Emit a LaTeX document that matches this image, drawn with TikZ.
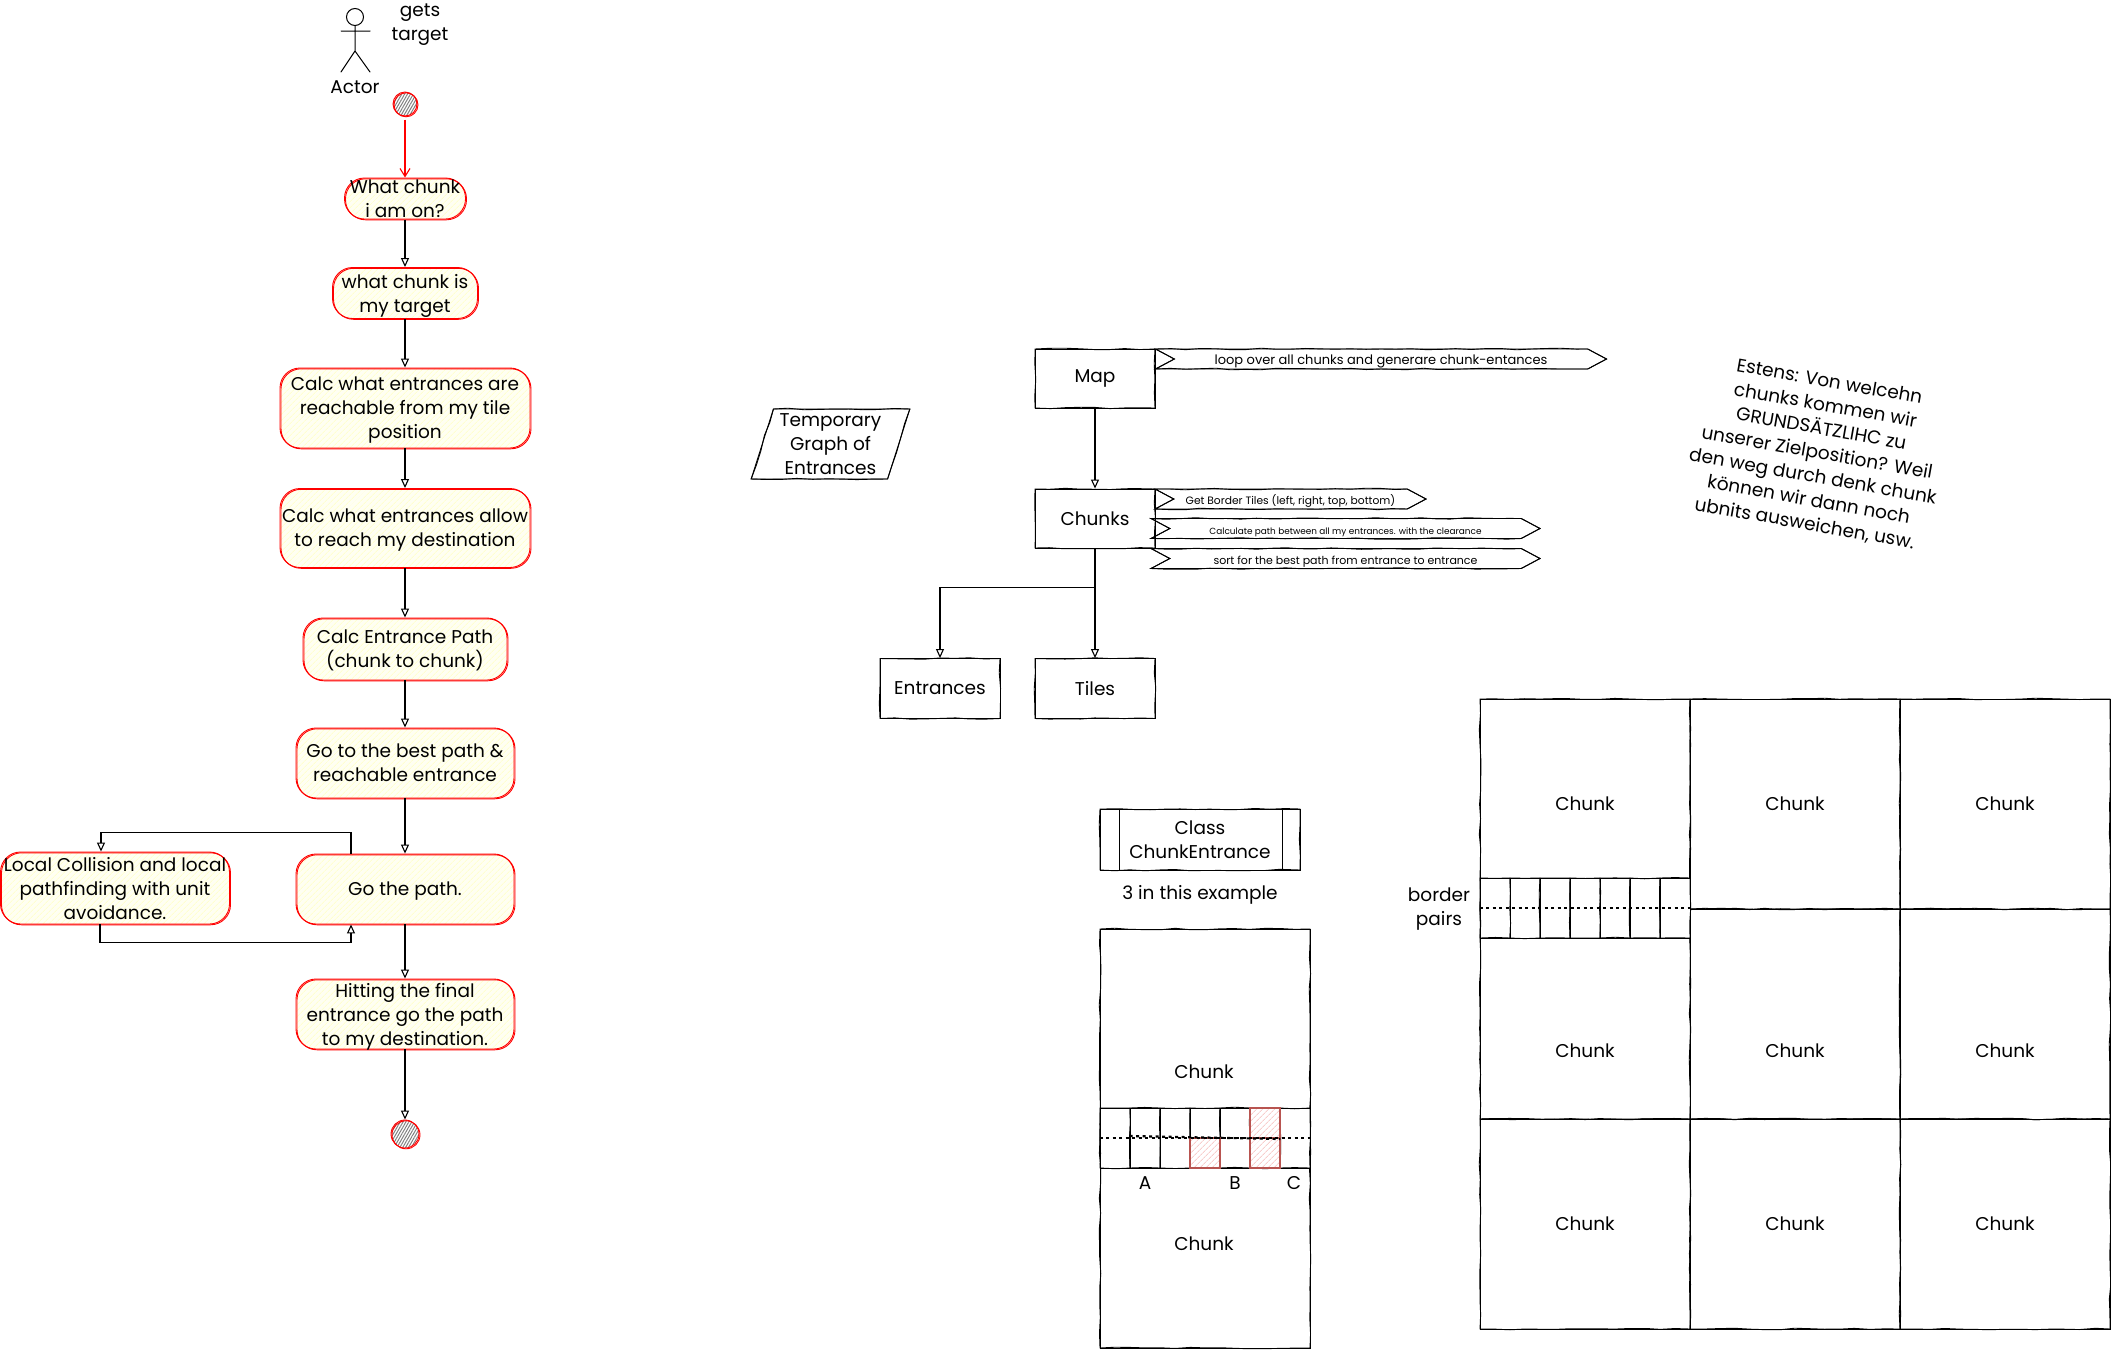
\documentclass[tikz,border=0pt]{standalone}
\usepackage{fontspec}
\usepackage{xcolor}
\setmainfont{Poppins}
\usetikzlibrary{arrows.meta,calc,decorations.pathmorphing,patterns.meta,shapes.geometric,shapes.symbols}
\definecolor{flowred}{HTML}{FF0000}
\definecolor{flowfill}{HTML}{FFFFF2}
\definecolor{flowhatch}{HTML}{FFFFD0}
\definecolor{markred}{HTML}{B85450}
\definecolor{markhatch}{HTML}{F8CECC}
\tikzset{
    sketch/.style={postaction={draw,decorate,decoration={random steps,segment length=15pt,amplitude=.8pt}}},
    softsketch/.style={postaction={draw,transform canvas={xshift=1pt,yshift=-.8pt}}},
    flowbox/.style={draw=flowred,softsketch,rounded corners=20pt,line width=.9pt,inner sep=0pt,align=center,text depth=0pt,
        preaction={fill=flowfill},pattern={Lines[angle=45,distance=4pt,line width=1pt]},pattern color=flowhatch},
    classbox/.style={draw,sketch,line width=.9pt,inner sep=0pt,align=center},
    chunkbox/.style={classbox,minimum width=210pt,minimum height=210pt},
    cellbox/.style={classbox,fill=white,minimum width=30pt,minimum height=60pt},
    markbox/.style={draw=markred,line width=1.2pt,minimum width=30pt,minimum height=30pt,
        inner sep=0pt,preaction={fill=white},pattern={Lines[angle=45,distance=4pt,line width=1pt]},pattern color=markhatch},
    noteflag/.style={draw,sketch,line width=.9pt,inner sep=0pt,signal,signal from=west,signal to=east,
        signal pointer angle=56,minimum height=20pt,text height=11pt,text depth=0pt},
    endpoint/.style={circle,draw=flowred,softsketch,line width=.9pt,inner sep=0pt,
        preaction={fill=white},pattern={Lines[angle=60,distance=2.5pt,line width=1pt]},pattern color=gray},
    arrow/.style={-{Triangle[length=9pt,width=8pt,open]},line width=1.1pt},
    startarrow/.style={-{Straight Barb[length=8pt,width=10pt]},line width=1.1pt,draw=flowred},
    pairline/.style={line width=2.2pt,dash pattern=on 3pt off 3.5pt},
    stickman/.style={line width=1pt,line cap=round}
}
\begin{document}
\begin{tikzpicture}[x=1pt,y=-1pt,font=\fontsize{18.5}{24}\selectfont]
    \pgfmathsetseed{4211}
    \useasboundingbox (0,0) rectangle (2111,1350);
    \draw[stickman] (355,17) circle (8.5pt);
    \draw[stickman] (341,31) -- (370,31) (355,26) -- (355,51) -- (341,72) (355,51) -- (370,72);
    \node (actor) at (355,87) {Actor};
    \node[align=center] (getstarget) at (420,25) {gets\\target};

    \node[endpoint,minimum size=24pt] (start) at (405,104) {};
    \node[flowbox,minimum width=121pt,minimum height=41pt] (chunkon) at (405,198.5) {What chunk\\i am on?};
    \node[flowbox,minimum width=145pt,minimum height=51pt] (chunktarget) at (405,293) {what chunk is\\my target};
    \node[flowbox,minimum width=250pt,minimum height=80pt] (reachable) at (405,408) {Calc what entrances are\\reachable from my tile\\position};
    \node[flowbox,minimum width=250pt,minimum height=79pt] (allow) at (405,528) {Calc what entrances allow\\to reach my destination};
    \node[flowbox,minimum width=204pt,minimum height=62pt] (entrancepath) at (405,649) {Calc Entrance Path\\(chunk to chunk)};
    \node[flowbox,minimum width=218pt,minimum height=70pt] (bestpath) at (405,763) {Go to the best path \&\\reachable entrance};
    \node[flowbox,minimum width=218pt,minimum height=70pt] (gopath) at (405,889) {Go the path.};
    \node[flowbox,minimum width=229pt,minimum height=72pt] (localpath) at (115,888) {Local Collision and local\\pathfinding with unit\\avoidance.};
    \node[flowbox,minimum width=218pt,minimum height=70pt] (finalpath) at (405,1014) {Hitting the final\\entrance go the path\\to my destination.};
    \node[endpoint,minimum size=28pt] (finish) at (405,1134) {};

    \draw[startarrow,shorten <=3pt] (start) -- (chunkon);
    \draw[arrow] (chunkon) -- (chunktarget);
    \draw[arrow] (chunktarget) -- (reachable);
    \draw[arrow] (reachable) -- (allow);
    \draw[arrow] (allow) -- (entrancepath);
    \draw[arrow] (entrancepath) -- (bestpath);
    \draw[arrow] (bestpath) -- (gopath);
    \draw[arrow] ([xshift=-54pt]gopath.north) -- ++(0,-21) -| ([xshift=-14pt]localpath.north);
    \draw[arrow] ([xshift=-15pt]localpath.south) -- ++(0,18) -| ([xshift=-54pt]gopath.south);
    \draw[arrow] (gopath) -- (finalpath);
    \draw[arrow] (finalpath) -- (finish);

    \node[classbox,minimum width=120pt,minimum height=59pt] (map) at (1095,378.5) {Map};
    \node[classbox,minimum width=120pt,minimum height=59pt] (chunks) at (1095,518.5) {Chunks};
    \node[classbox,minimum width=120pt,minimum height=60pt] (entrances) at (940,688.5) {Entrances};
    \node[classbox,minimum width=120pt,minimum height=60pt] (tiles) at (1095,688.5) {Tiles};
    \draw[arrow] (map) -- (chunks);
    \draw[arrow] (chunks) -- (tiles);
    \draw[arrow] (chunks.south) -- ++(0,39) -| (entrances.north);

    \node[noteflag,minimum width=451pt,font=\fontsize{13}{15}\selectfont] (loopflag) at (1381,359) {loop over all chunks and generare chunk-entances};
    \node[noteflag,minimum width=271pt,font=\fontsize{10.7}{13}\selectfont] (borderflag) at (1290.5,499) {Get Border Tiles (left, right, top, bottom)};
    \node[noteflag,minimum width=389pt,font=\fontsize{8.9}{13}\selectfont] (pathflag) at (1345.5,528.5) {Calculate path between all my entrances. with the clearance};
    \node[noteflag,minimum width=389pt,font=\fontsize{11}{13}\selectfont] (sortflag) at (1345.5,558.5) {sort for the best path from entrance to entrance};

    \node[trapezium,trapezium stretches=true,trapezium left angle=72,trapezium right angle=108,draw,sketch,
        line width=.9pt,inner sep=0pt,align=center,minimum width=159pt,minimum height=70pt] (tempgraph) at (830.5,444) {Temporary\\Graph of\\Entrances};
    \node[rotate=-10,align=center] (note) at (1817,453) {Estens: Von welcehn\\chunks kommen wir\\GRUNDSÄTZLIHC zu\\unserer Zielposition? Weil\\den weg durch denk chunk\\können wir dann noch\\ubnits ausweichen, usw.};

    \node[classbox,minimum width=200pt,minimum height=61pt] (classname) at (1200,839.5) {Class\\ChunkEntrance};
    \draw[line width=.9pt] ([xshift=20pt]classname.north west) -- ([xshift=20pt]classname.south west);
    \draw[line width=.9pt] ([xshift=-18pt]classname.north east) -- ([xshift=-18pt]classname.south east);
    \node (example) at (1200,895) {3 in this example};

    \node[chunkbox,minimum height=209pt] (upperchunk) at (1205,1033.5) {};
    \node[chunkbox] (lowerchunk) at (1205,1243) {};
    \foreach \i in {0,...,6} {
        \node[cellbox] (pair\i) at (1115+30*\i,1138) {};
    }
    \node[markbox] (marka) at (1205,1153) {};
    \node[markbox] (markb) at (1265,1123) {};
    \node[markbox] (markc) at (1265,1153) {};
    \draw[pairline] (pair0.west) -- (pair6.east);
    \draw[pairline] ([yshift=2pt]pair1.west) -- ([yshift=-1pt]pair5.east);
    \node at (1204,1072) {Chunk};
    \node at (1204,1244) {Chunk};
    \node (labela) at (1145,1183) {A};
    \node (labelb) at (1235,1183) {B};
    \node (labelc) at (1294,1183) {C};

    \node[chunkbox] (grida) at (1585,804) {Chunk};
    \node[chunkbox] (gridb) at (1795,804) {Chunk};
    \node[chunkbox] (gridc) at (2005,804) {Chunk};
    \node[chunkbox] (gridd) at (1585,1014) {};
    \node[chunkbox] (gride) at (1795,1014) {};
    \node[chunkbox] (gridf) at (2005,1014) {};
    \node[chunkbox] (gridg) at (1585,1224) {Chunk};
    \node[chunkbox] (gridh) at (1795,1224) {Chunk};
    \node[chunkbox] (gridi) at (2005,1224) {Chunk};
    \foreach \i in {0,...,6} {
        \node[cellbox] (border\i) at (1495+30*\i,908) {};
    }
    \draw[pairline] (border0.west) -- (border6.east);
    \node at (1585,1051) {Chunk};
    \node at (1795,1051) {Chunk};
    \node at (2005,1051) {Chunk};
    \node[align=center] (borderpairs) at (1439,909) {border\\pairs};
\end{tikzpicture}
\end{document}
